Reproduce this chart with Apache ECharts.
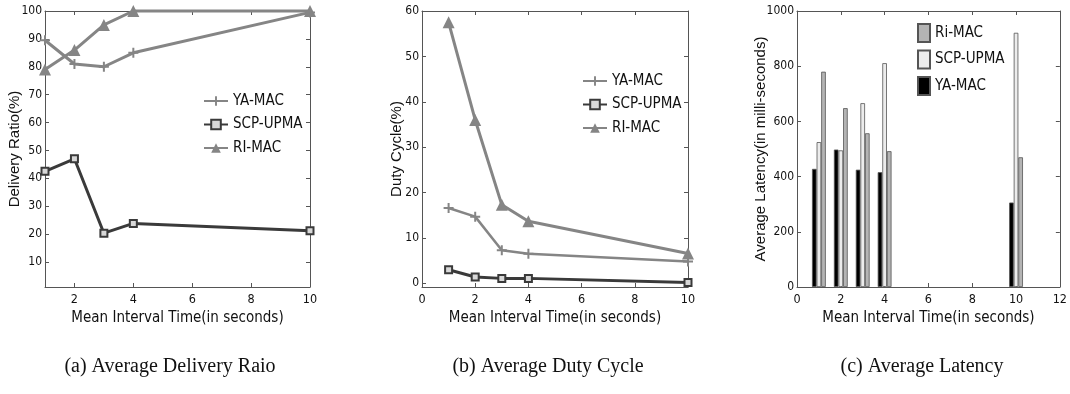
<!DOCTYPE html>
<html><head><meta charset="utf-8">
<script src="https://cdn.jsdelivr.net/npm/echarts@6/dist/echarts.min.js"></script>
<style>html,body{margin:0;padding:0;background:#fff}#c{width:1070px;height:394px}</style>
</head><body><div id="c"></div>
<script>
// ---- data ----
const xTimes = [1, 2, 3, 4, 10];
const seriesNames = ['YA-MAC', 'SCP-UPMA', 'RI-MAC'];
const latencyNames = ['YA-MAC', 'SCP-UPMA', 'Ri-MAC'];
// (a) delivery ratio (%)
const drYA  = [89.5, 81, 80, 85, 99.5];
const drSCP = [42.5, 47, 20.3, 23.8, 21.2];
const drRI  = [79, 86, 95, 100, 100];
// (b) duty cycle (%)
const dcYA  = [16.6, 14.7, 7.3, 6.5, 4.8];
const dcSCP = [3.0, 1.4, 1.1, 1.1, 0.2];
const dcRI  = [57.5, 36, 17.3, 13.7, 6.6];
// (c) latency (ms)
const latYA  = [428, 498, 425, 416, 306];
const latSCP = [525, 495, 666, 811, 921];
const latRI  = [780, 648, 557, 492, 470];
// tick labels
const drXTicks = [2, 4, 6, 8, 10];
const drYTicks = [10, 20, 30, 40, 50, 60, 70, 80, 90, 100];
const dcXTicks = [0, 2, 4, 6, 8, 10];
const dcYTicks = [0, 10, 20, 30, 40, 50, 60];
const latXTicks = [0, 2, 4, 6, 8, 10, 12];
const latYTicks = [0, 200, 400, 600, 800, 1000];
const xTitle = 'Mean Interval Time(in seconds)';
const yTitles = ['Delivery Ratio(%)', 'Duty Cycle(%)', 'Average Latency(in milli-seconds)'];
const captions = ['(a) Average Delivery Raio', '(b) Average Duty Cycle', '(c) Average Latency'];

const NARROW = "'Liberation Sans Narrow','Arial Narrow','DejaVu Sans Condensed','Liberation Sans',sans-serif";
const SANS = "'Liberation Sans',Arial,sans-serif";
const AX = '#555';
const GRAY = '#858585', DARK = '#3a3a3a';
const PLUS = 'path://M4,0H6V4H10V6H6V10H4V6H0V4H4Z';

const grids = [
  {left: 45, top: 11, width: 265, height: 276},
  {left: 422, top: 11, width: 266, height: 276},
  {left: 797, top: 11, width: 265, height: 276}
];
const xr = [[1, 10, drXTicks], [0, 10, dcXTicks], [0, 12, latXTicks]];
const yr = [[1, 100, drYTicks], [-0.8, 60, dcYTicks], [0, 1000, latYTicks]];
const yGaps = [22.5, 18, 28.5];

const xAxis = [], yAxis = [];
for (let i = 0; i < 3; i++) {
  const [xmin, xmax, xt] = xr[i];
  const [ymin, ymax, yt] = yr[i];
  xAxis.push({
    type: 'value', gridIndex: i, min: xmin, max: xmax, position: 'bottom',
    axisLine: {show: true, onZero: false, lineStyle: {color: AX, width: 1}},
    axisTick: {show: true, inside: true, length: 4, customValues: xt, lineStyle: {color: AX}},
    axisLabel: {show: true, customValues: xt, margin: 6, color: '#111', fontFamily: NARROW, fontSize: 12.5,
      formatter: v => String(v)},
    splitLine: {show: false},
    name: xTitle, nameLocation: 'middle', nameGap: 24, nameMoveOverlap: false,
    nameTextStyle: {fontFamily: NARROW, fontSize: 15, color: '#111', verticalAlign: 'top'}
  });
  xAxis.push({
    type: 'value', gridIndex: i, min: xmin, max: xmax, position: 'top',
    axisLine: {show: true, onZero: false, lineStyle: {color: AX, width: 1}},
    axisTick: {show: true, inside: true, length: 4, customValues: xt, lineStyle: {color: AX}},
    axisLabel: {show: false}, splitLine: {show: false}
  });
  yAxis.push({
    type: 'value', gridIndex: i, min: ymin, max: ymax, position: 'left',
    axisLine: {show: true, onZero: false, lineStyle: {color: AX, width: 1}},
    axisTick: {show: true, inside: true, length: 4, customValues: yt, lineStyle: {color: AX}},
    axisLabel: {show: true, customValues: yt, margin: 3, color: '#111', fontFamily: NARROW, fontSize: 12,
      formatter: v => String(v)},
    splitLine: {show: false},
    name: yTitles[i], nameLocation: 'middle', nameGap: yGaps[i], nameRotate: 90, nameMoveOverlap: false,
    nameTextStyle: {fontFamily: SANS, fontSize: 15, color: '#111', verticalAlign: 'bottom'}
  });
  yAxis.push({
    type: 'value', gridIndex: i, min: ymin, max: ymax, position: 'right',
    axisLine: {show: true, onZero: false, lineStyle: {color: AX, width: 1}},
    axisTick: {show: true, inside: true, length: 4, customValues: yt, lineStyle: {color: AX}},
    axisLabel: {show: false}, splitLine: {show: false}
  });
}

function pairs(vals) { return xTimes.map((x, k) => [x, vals[k]]); }

// internal series names carry a "|chart" suffix so each legend maps to its own chart's series
function lineSeries(g, name, vals, kind, width) {
  const base = {
    type: 'line', name: name + '|' + g, xAxisIndex: g * 2, yAxisIndex: g * 2,
    data: pairs(vals), clip: false, legendHoverLink: false, animation: false
  };
  if (kind === 'plus') {
    return Object.assign(base, {symbol: PLUS, symbolSize: 10,
      lineStyle: {color: GRAY, width: width}, itemStyle: {color: GRAY}});
  }
  if (kind === 'square') {
    return Object.assign(base, {symbol: 'rect', symbolSize: 7,
      lineStyle: {color: DARK, width: width},
      itemStyle: {color: '#d8d8d8', borderColor: DARK, borderWidth: 2}});
  }
  return Object.assign(base, {symbol: 'triangle', symbolSize: 12,
    lineStyle: {color: GRAY, width: width}, itemStyle: {color: GRAY}});
}

function barSeries(name, vals, color) {
  return {
    type: 'bar', name: name + '|2', xAxisIndex: 4, yAxisIndex: 4, data: pairs(vals),
    barWidth: 4.6, barGap: '0%', animation: false,
    itemStyle: {color: color, borderColor: '#555', borderWidth: 0.8}
  };
}

const series = [
  lineSeries(0, seriesNames[0], drYA, 'plus', 3),
  lineSeries(0, seriesNames[1], drSCP, 'square', 3),
  lineSeries(0, seriesNames[2], drRI, 'tri', 3),
  lineSeries(1, seriesNames[0], dcYA, 'plus', 2.5),
  lineSeries(1, seriesNames[1], dcSCP, 'square', 3),
  lineSeries(1, seriesNames[2], dcRI, 'tri', 3),
  barSeries(latencyNames[0], latYA, '#000000'),
  barSeries(latencyNames[1], latSCP, '#ececec'),
  barSeries(latencyNames[2], latRI, '#b4b4b4')
];

const legendText = {fontFamily: NARROW, fontSize: 15, color: '#111', lineHeight: 16};
const fmt = n => n.split('|')[0];
const legend = [
  {left: 198, top: 88, orient: 'vertical', itemWidth: 24, itemHeight: 12, itemGap: 7.5, itemTextGap: 3,
   data: seriesNames.map(n => n + '|0'), formatter: fmt, textStyle: legendText, selectedMode: false},
  {left: 577, top: 68, orient: 'vertical', itemWidth: 24, itemHeight: 12, itemGap: 7.5, itemTextGap: 3,
   data: seriesNames.map(n => n + '|1'), formatter: fmt, textStyle: legendText, selectedMode: false},
  {left: 912, top: 18, orient: 'vertical', itemWidth: 12, itemHeight: 18, itemGap: 6.5, itemTextGap: 4,
   icon: 'rect',
   data: [latencyNames[2] + '|2', latencyNames[1] + '|2', latencyNames[0] + '|2'],
   formatter: fmt, textStyle: legendText, selectedMode: false}
];

const centers = [170, 548, 922];
const graphic = captions.map((t, i) => ({
  type: 'text', x: centers[i], y: 357,
  style: {text: t, font: "20px 'Liberation Serif','Times New Roman',serif", fill: '#111', textAlign: 'center'}
}));

const chart = echarts.init(document.getElementById('c'), null, {renderer: 'canvas'});
chart.setOption({
  backgroundColor: '#fff', animation: false,
  tooltip: {show: false},
  grid: grids, xAxis: xAxis, yAxis: yAxis, series: series, legend: legend, graphic: graphic
});
</script></body></html>
